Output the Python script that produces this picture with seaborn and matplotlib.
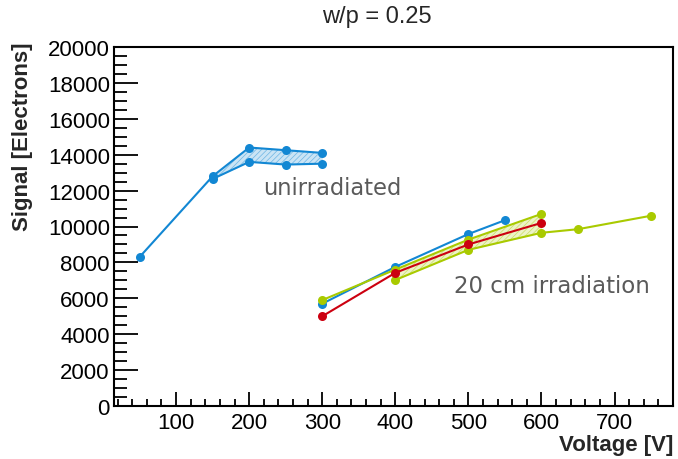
import matplotlib
matplotlib.use("Agg")
import matplotlib.pyplot as plt
import numpy as np
import seaborn as sns

# unirradiated sample (blue band)
unirr_hi_v = [50, 150, 200, 250, 300]
unirr_hi_s = [8300, 12800, 14400, 14250, 14100]
unirr_lo_v = [150, 200, 250, 300]
unirr_lo_s = [12650, 13600, 13450, 13500]

# 20 cm irradiation
irr_blue_v = [300, 400, 500, 550]
irr_blue_s = [5700, 7750, 9580, 10350]
irr_red_v = [300, 400, 500, 600]
irr_red_s = [5000, 7420, 9000, 10200]
irr_green_hi_v = [300, 400, 500, 600]
irr_green_hi_s = [5900, 7600, 9270, 10700]
irr_green_lo_v = [400, 500, 600, 650, 750]
irr_green_lo_s = [7020, 8700, 9650, 9850, 10600]

BLUE = "#1287d3"
RED = "#cc0010"
GREEN = "#a9ca00"

sns.set_theme(style="ticks")
plt.rcParams["font.family"] = ["Liberation Sans", "DejaVu Sans"]
plt.rcParams["hatch.linewidth"] = 0.5

fig = plt.figure(figsize=(6.78, 4.6), dpi=100)
ax = fig.add_axes([114 / 678, 1 - 407 / 460, (673 - 114) / 678, (407 - 48) / 460])

line_kw = dict(marker="o", markersize=6.5, markeredgewidth=0, linewidth=1.5,
               sort=False, estimator=None, ax=ax)


def band(v_hi, s_hi, v_lo, s_lo, lo, hi, color):
    grid = np.array([v for v in v_lo if lo <= v <= hi])
    up = np.interp(grid, v_hi, s_hi)
    dn = np.interp(grid, v_lo, s_lo)
    ax.fill_between(grid, dn, up, facecolor=color, alpha=0.22, linewidth=0, zorder=1)
    ax.fill_between(grid, dn, up, facecolor="none", edgecolor=color, hatch="//////",
                    linewidth=0, alpha=0.5, zorder=1)


band(unirr_hi_v, unirr_hi_s, unirr_lo_v, unirr_lo_s, 150, 300, BLUE)
sns.lineplot(x=unirr_hi_v, y=unirr_hi_s, color=BLUE, **line_kw)
sns.lineplot(x=unirr_lo_v, y=unirr_lo_s, color=BLUE, **line_kw)

sns.lineplot(x=irr_blue_v, y=irr_blue_s, color=BLUE, **line_kw)
band(irr_green_hi_v, irr_green_hi_s, irr_green_lo_v, irr_green_lo_s, 400, 600, GREEN)
sns.lineplot(x=irr_green_hi_v, y=irr_green_hi_s, color=GREEN, **line_kw)
sns.lineplot(x=irr_green_lo_v, y=irr_green_lo_s, color=GREEN, **line_kw)
sns.lineplot(x=irr_red_v, y=irr_red_s, color=RED, **line_kw)

ax.set_xlim(15, 780)
ax.set_ylim(0, 20000)
ax.set_xticks(range(100, 800, 100))
ax.set_xticks(range(20, 781, 20), minor=True)
ax.set_yticks(range(0, 20001, 2000))
ax.set_yticks(range(0, 20001, 500), minor=True)
ax.tick_params(which="both", direction="in", top=False, right=False,
               labelsize=16, width=1.3, colors="black")
ax.tick_params(axis="y", which="major", length=17, pad=3)
ax.tick_params(axis="y", which="minor", length=9)
ax.tick_params(axis="x", which="major", length=10, pad=4)
ax.tick_params(axis="x", which="minor", length=5)
for sp in ax.spines.values():
    sp.set_visible(True)
    sp.set_linewidth(1.5)
    sp.set_color("black")

ax.set_xlabel("Voltage [V]", fontsize=16, fontweight="bold", loc="right", labelpad=1)
ax.set_ylabel("Signal [Electrons]", fontsize=16, fontweight="bold", loc="top")
ax.yaxis.set_label_coords(-0.145, 1.014)

ax.text(314, 12200, "unirradiated", fontsize=16.3, color="#5a5a5a",
        family=["DejaVu Sans"], ha="center", va="center")
ax.text(749, 6740, "20 cm irradiation", fontsize=16.5, color="#5a5a5a",
        family=["DejaVu Sans"], ha="right", va="center")

fig.text(377 / 678, 1 - 17 / 460, "w/p = 0.25", fontsize=17, ha="center", va="center")

fig.savefig("out.png", dpi=100)
